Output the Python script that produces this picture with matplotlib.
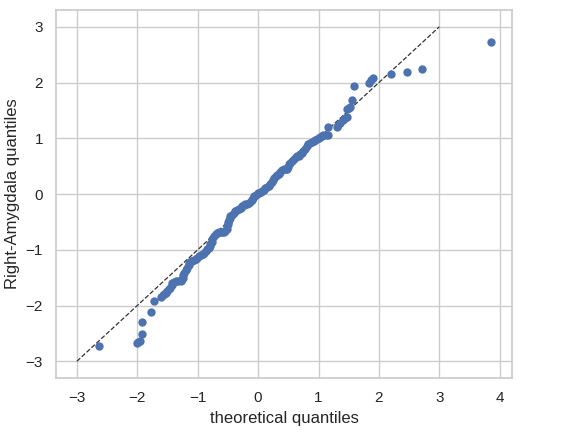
import numpy as np
import matplotlib.pyplot as plt
import seaborn as sns

# theoretical quantiles (x) vs sample quantiles (y)
theo = [-2.63, -2.00, -1.98, -1.96, -1.92, -1.92, -1.77, -1.72, -1.61, -1.58,
        -1.56, -1.53, -1.50, -1.47, -1.45, -1.43, -1.42, -1.39, -1.36, -1.32,
        -1.28, -1.26, -1.25, -1.24, -1.23, -1.20, -1.17, -1.15, -1.14, -1.11,
        -1.09, -1.06, -1.03, -1.01, -0.98, -0.95, -0.92, -0.90, -0.87, -0.84,
        -0.81, -0.80, -0.79, -0.77, -0.76, -0.73, -0.70, -0.68, -0.65, -0.62,
        -0.59, -0.56, -0.54, -0.52, -0.51, -0.50, -0.49, -0.48, -0.47, -0.46,
        -0.43, -0.40, -0.38, -0.35, -0.32, -0.29, -0.27, -0.24, -0.21, -0.18,
        -0.15, -0.12, -0.10, -0.08, -0.06, -0.03, 0.00, 0.02, 0.05, 0.07,
        0.10, 0.12, 0.15, 0.18, 0.20, 0.23, 0.25, 0.27, 0.29, 0.31,
        0.34, 0.37, 0.40, 0.43, 0.46, 0.48, 0.50, 0.51, 0.53, 0.56,
        0.59, 0.62, 0.64, 0.67, 0.70, 0.72, 0.75, 0.78, 0.81, 0.83,
        0.86, 0.89, 0.92, 0.95, 0.98, 1.00, 1.03, 1.06, 1.08, 1.12,
        1.16, 1.16, 1.30, 1.33, 1.36, 1.40, 1.44, 1.47, 1.47, 1.50,
        1.52, 1.55, 1.58, 1.84, 1.87, 1.91, 2.20, 2.46, 2.72, 3.86]
sample = [-2.72, -2.68, -2.66, -2.63, -2.51, -2.30, -2.11, -1.92, -1.84, -1.82,
          -1.80, -1.77, -1.74, -1.71, -1.68, -1.64, -1.59, -1.57, -1.56, -1.56,
          -1.56, -1.53, -1.50, -1.46, -1.41, -1.37, -1.32, -1.27, -1.23, -1.21,
          -1.20, -1.18, -1.16, -1.14, -1.12, -1.10, -1.08, -1.05, -1.02, -0.99,
          -0.96, -0.93, -0.90, -0.86, -0.81, -0.76, -0.72, -0.70, -0.69, -0.69,
          -0.69, -0.68, -0.66, -0.62, -0.57, -0.53, -0.50, -0.46, -0.43, -0.40,
          -0.37, -0.34, -0.31, -0.28, -0.27, -0.25, -0.22, -0.19, -0.18, -0.17,
          -0.16, -0.13, -0.10, -0.07, -0.04, -0.02, 0.01, 0.02, 0.03, 0.05,
          0.08, 0.10, 0.12, 0.15, 0.18, 0.22, 0.25, 0.28, 0.32, 0.34,
          0.36, 0.40, 0.43, 0.44, 0.44, 0.45, 0.49, 0.53, 0.56, 0.60,
          0.63, 0.66, 0.68, 0.69, 0.71, 0.73, 0.77, 0.81, 0.86, 0.89,
          0.91, 0.93, 0.96, 0.97, 0.99, 1.01, 1.02, 1.04, 1.05, 1.06,
          1.06, 1.20, 1.20, 1.24, 1.28, 1.32, 1.36, 1.39, 1.52, 1.54,
          1.56, 1.69, 1.93, 1.99, 2.05, 2.09, 2.15, 2.18, 2.24, 2.73]

sns.set_theme(style="whitegrid")
plt.rcParams['font.family'] = ['Liberation Sans', 'DejaVu Sans']

fig, ax = plt.subplots(figsize=(5.67, 4.37), dpi=100)
fig.subplots_adjust(left=0.099, right=0.903, top=0.977, bottom=0.135)

ax.scatter(theo, sample, s=36, color="#4c72b0", linewidth=0, zorder=3)
ax.plot([-3, 3], [-3, 3], "--", color="#333333", linewidth=0.9, zorder=2)

ax.set_xlabel("theoretical quantiles")
ax.set_ylabel("Right-Amygdala quantiles")

fig.savefig("out.png", dpi=100)
